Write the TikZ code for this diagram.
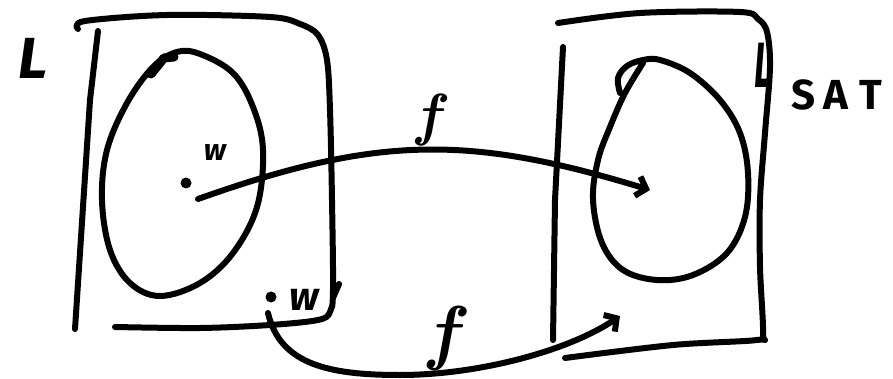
\documentclass[tikz,border=0pt]{standalone}
\usepackage{fontspec}
\usepackage{graphicx}
\setsansfont{Fira Sans}
\usetikzlibrary{arrows.meta}
\begin{document}
\begin{tikzpicture}[x=1pt,y=-1pt,
  ink/.style={line width=6pt, line cap=round, line join=round},
  arr/.style={ink, -{Straight Barb[length=9pt,width=20pt]}},
  dot/.style={circle, fill=black, inner sep=0pt, minimum size=11pt},
  lbl/.style={inner sep=0pt}]
\useasboundingbox (0,0) rectangle (893,379);

% left box
\draw[ink] plot[smooth, tension=0.55] coordinates {(78,29) (85,21) (167,15) (270,17) (300,24) (318,35) (327,60) (330,110) (332,200) (333,290) (330,312) (318,320) (270,325) (200,328) (115,327)};
\draw[ink] (98,31) -- (90,100) -- (75,329);
\draw[ink] (333,298) -- (339,284);

% left ellipse
\draw[ink] plot[smooth cycle, tension=0.6] coordinates {(177,52) (200,54) (233,73) (253,107) (263,150) (257,207) (233,253) (200,283) (160,296) (130,283) (110,250) (102,200) (107,150) (127,103) (153,67)};
\draw[ink, line width=9pt] (151,74) -- (164,58) -- (174,57);

% right box
\draw[ink] plot[smooth, tension=0.55] coordinates {(558,23) (640,13) (740,12) (758,19) (767,32) (770,67) (765,133) (760,200) (760,267) (763,333) (757,340) (673,345) (565,358)};
\draw[ink] (563,47) -- (555,200) -- (553,340);

% right blob
\draw[ink] plot[smooth, tension=0.6] coordinates {(620,93) (618,78) (627,66) (643,60) (660,60) (690,73) (720,100) (740,133) (748,173) (745,217) (727,253) (693,275) (657,280) (623,270) (602,243) (593,200) (598,160) (610,127) (625,93) (643,63)};

% points and labels
\node[dot] (d1) at (186,183) {};
\node[dot] (d2) at (271,297) {};
\node[lbl, font=\sffamily\bfseries\itshape\fontsize{58}{58}\selectfont] (Ll) at (33,58) {L};
\node[lbl, font=\sffamily\bfseries\itshape\fontsize{30}{30}\selectfont] (w1) at (215,153) {w};
\node[lbl, font=\sffamily\bfseries\itshape\fontsize{40}{40}\selectfont] (w2) at (304,300) {w};
\node[lbl, font=\rmfamily\bfseries\itshape\fontsize{58}{58}\selectfont] (f1) at (428,120) {f};
\node[lbl, font=\rmfamily\bfseries\itshape\fontsize{72}{72}\selectfont] (f2) at (443,338) {f};
\node[lbl, font=\sffamily\bfseries\itshape\fontsize{64}{64}\selectfont] (Lr) at (763,65) {\scalebox{0.55}[1]{L}};
\node[lbl, font=\sffamily\bfseries\fontsize{42}{42}\selectfont] (sat) at (837,95) {S\hspace{8pt}A\hspace{11pt}T};

% arrows
\coordinate (s1) at (198,199);
\coordinate (t1) at (650,190);
\coordinate (s2) at (268,313);
\coordinate (t2) at (620,316);
\draw[arr] (s1) .. controls (378,135) and (470,135) .. (t1);
\draw[arr] (s2) .. controls (280,365) and (330,375) .. (400,375) .. controls (480,375) and (570,350) .. (t2);
\end{tikzpicture}
\end{document}
